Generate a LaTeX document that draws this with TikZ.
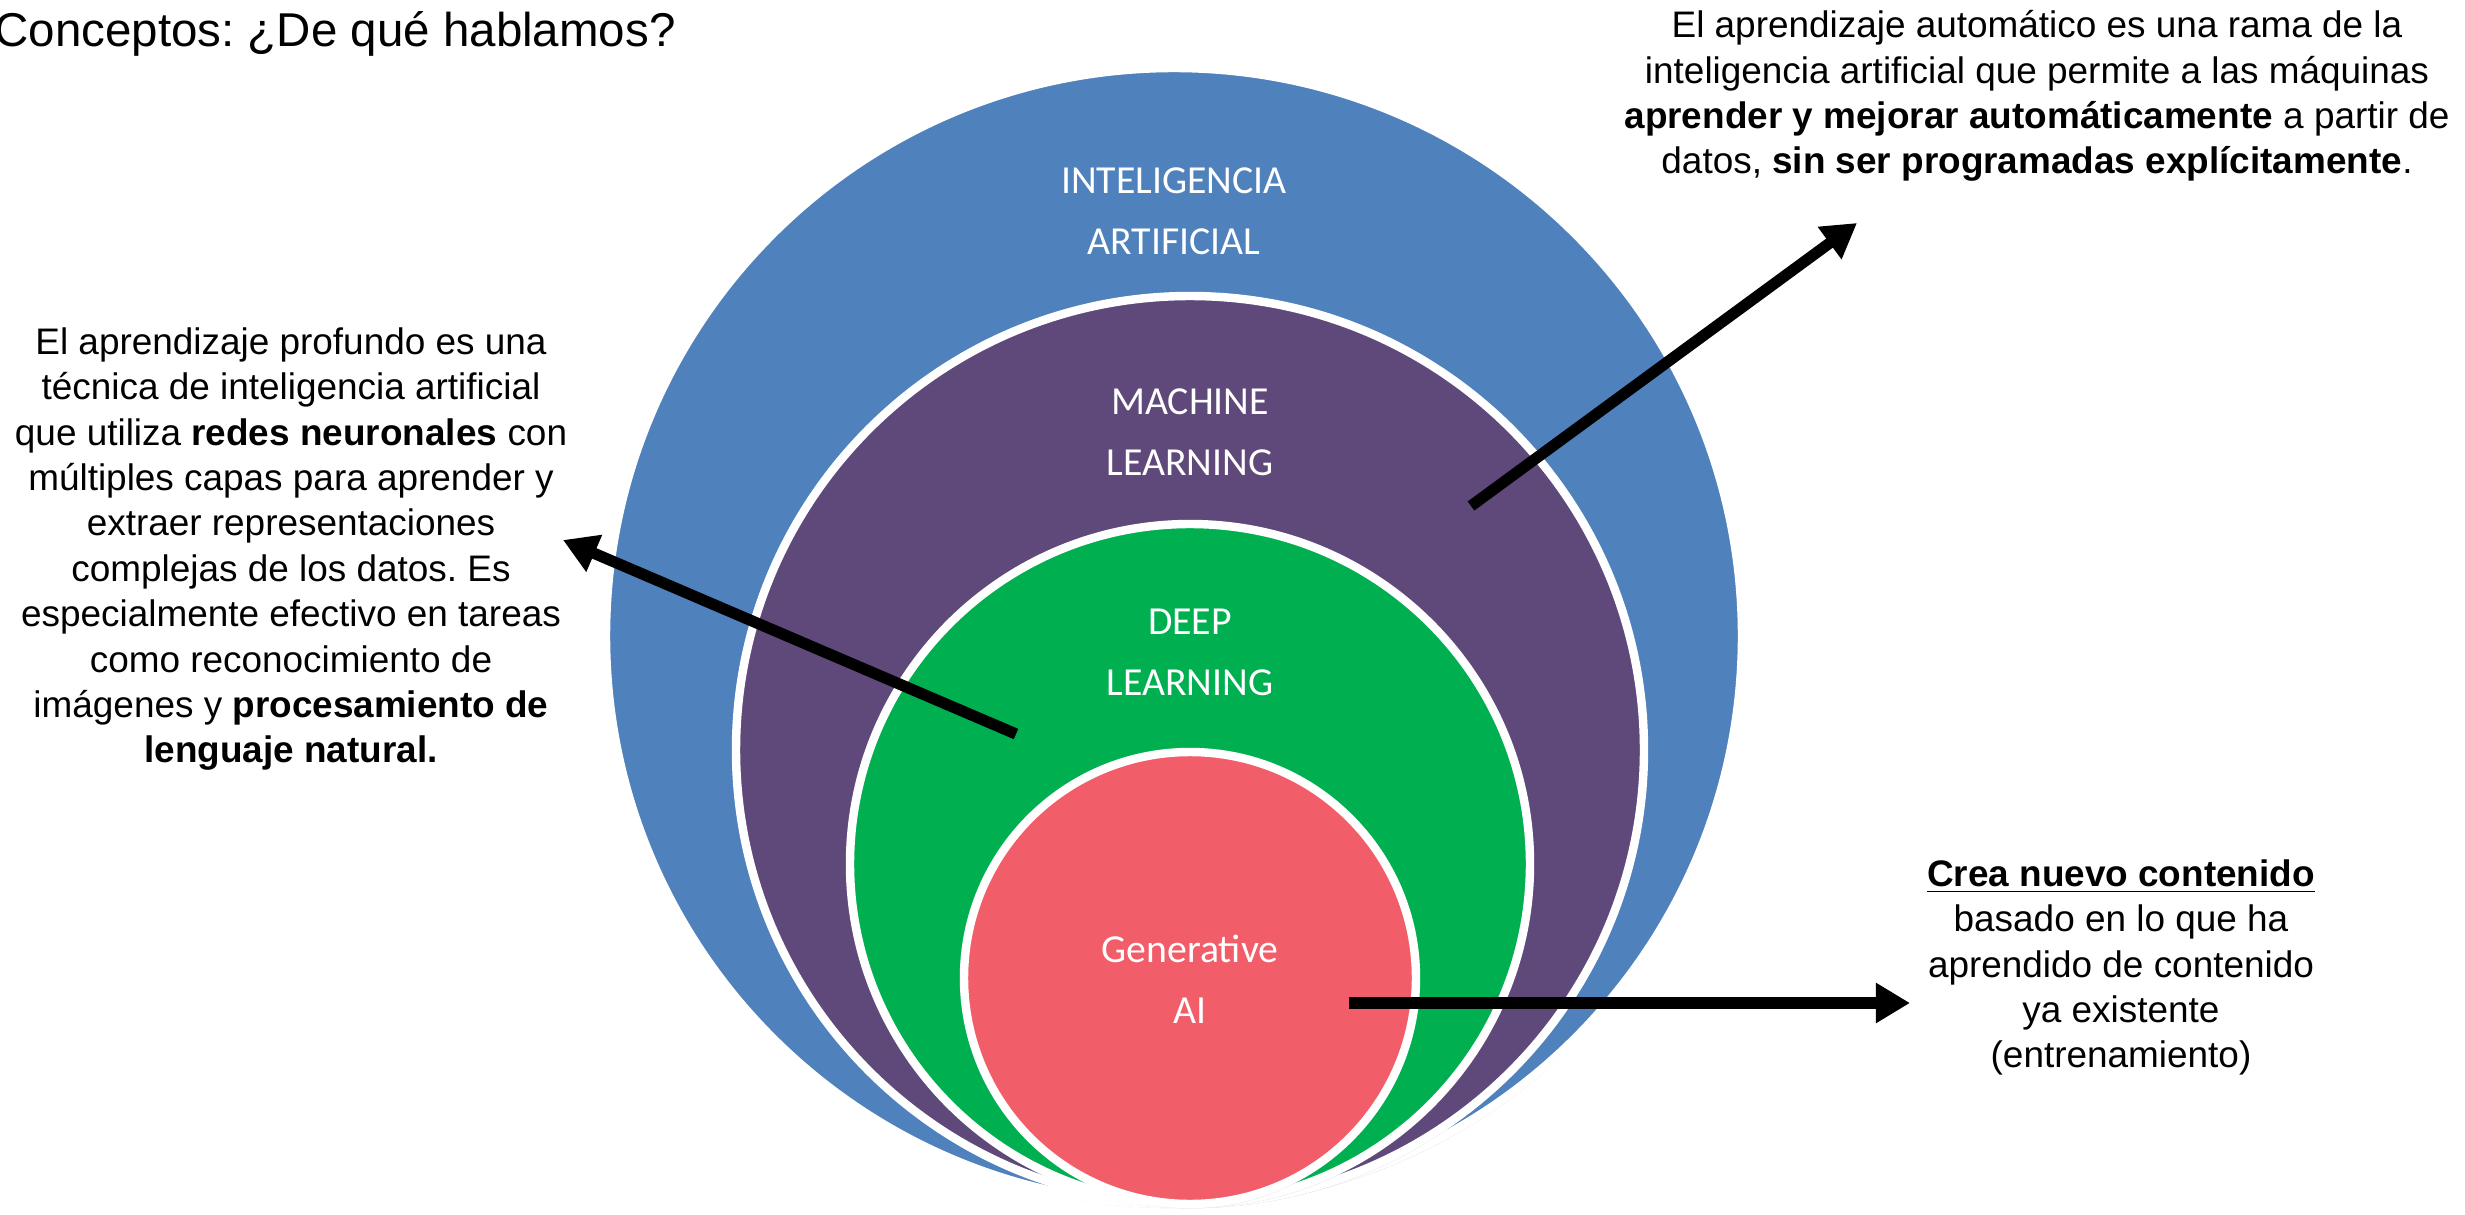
\documentclass[tikz,border=0pt]{standalone}
\usepackage{fontspec}
\setmainfont{Liberation Sans}
\newfontfamily\ringfont{Carlito}
\usetikzlibrary{arrows.meta,shadows}
\frenchspacing

\definecolor{iablue}{RGB}{79,129,189}
\definecolor{mlpurple}{RGB}{95,73,122}
\definecolor{dlgreen}{RGB}{0,176,80}
\definecolor{genred}{RGB}{241,94,106}

\begin{document}
\begin{tikzpicture}[x=0.01cm, y=-0.01cm,
  ring/.style={draw=white, line width=2.4pt,
    drop shadow={opacity=0.3, shadow xshift=0.4pt, shadow yshift=-1.2pt}},
  ringlabel/.style={text=white, align=center, inner sep=0pt,
    font=\ringfont\fontsize{11.3}{17.3}\selectfont},
  note/.style={align=center, inner sep=0pt, font=\fontsize{10.5}{12.9}\selectfont},
  pointer/.style={line width=3.2pt, -{Triangle[length=0.34cm, width=0.38cm]}}]
% fix the page size
\useasboundingbox (0,0) rectangle (2465,1215);

% draw the nested circles, largest first
\foreach \name/\cx/\cy/\r/\col in {
ia/1174/636/568/iablue,
ml/1190/750/454/mlpurple,
dl/1190/864/340/dlgreen,
gen/1190/978/226/genred} {
\coordinate (\name) at (\cx,\cy);
\path[ring, fill=\col] (\name) circle[radius=\r];
}

% the names inside the circles
\node[ringlabel] (ialabel) at (1174,211) {INTELIGENCIA\\ARTIFICIAL};
\node[ringlabel] (mllabel) at (1190,432) {MACHINE\\LEARNING};
\node[ringlabel] (dllabel) at (1190,652) {DEEP\\LEARNING};
\node[ringlabel] (genlabel) at (1190,979) {Generative\\AI};

% title
\node[anchor=base west, inner sep=0pt, font=\fontsize{13.5}{16}\selectfont]
  (title) at (-6,46) {Conceptos: ¿De qué hablamos?};

% the explanations
\node[note, anchor=north] (mltext) at (2037,10) {El aprendizaje automático es una rama de la\\
inteligencia artificial que permite a las máquinas\\
\textbf{aprender y mejorar automáticamente} a partir de\\
datos, \textbf{sin ser programadas explícitamente}.};
\node[note, anchor=north] (dltext) at (291,327) {El aprendizaje profundo es una\\
técnica de inteligencia artificial\\
que utiliza \textbf{redes neuronales} con\\
múltiples capas para aprender y\\
extraer representaciones\\
complejas de los datos. Es\\
especialmente efectivo en tareas\\
como reconocimiento de\\
imágenes y \textbf{procesamiento de}\\
\textbf{lenguaje natural.}};
\node[note, anchor=north] (gentext) at (2121,859) {\underline{\textbf{Crea nuevo contenido}}\\
basado en lo que ha\\
aprendido de contenido\\
ya existente\\
(entrenamiento)};

% the arrows from the circles to the texts
\coordinate (mltail) at (1471,506);
\coordinate (mltip) at (1857,223);
\coordinate (dltail) at (1016,734);
\coordinate (dltip) at (563,540);
\coordinate (gentail) at (1349,1003);
\coordinate (gentip) at (1910,1003);
\draw[pointer] (mltail) -- (mltip);
\draw[pointer] (dltail) -- (dltip);
\draw[pointer] (gentail) -- (gentip);
\end{tikzpicture}
\end{document}
